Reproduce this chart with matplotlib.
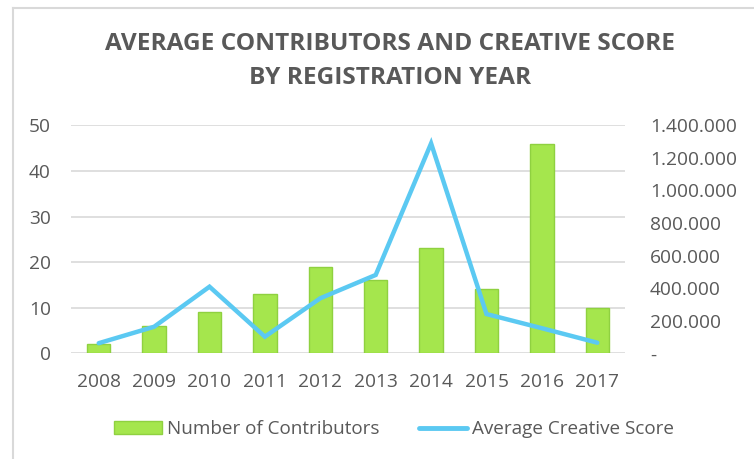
import matplotlib
matplotlib.use("Agg")
import matplotlib.pyplot as plt
from matplotlib.lines import Line2D
from matplotlib.patches import Patch
from matplotlib.ticker import FuncFormatter

plt.rcParams['font.family'] = ['Open Sans', 'DejaVu Sans']

years = ["2008", "2009", "2010", "2011", "2012", "2013", "2014", "2015", "2016", "2017"]
contributors = [2, 6, 9, 13, 19, 16, 23, 14, 46, 10]
creative_score = [62000, 163000, 409000, 102000, 338000, 481000, 1289000, 241000, 154000, 65000]

BAR_FILL = "#a5e64d"
BAR_EDGE = "#8fd140"
LINE_COLOR = "#5bc9f2"
TEXT = "#595959"
GRID = "#d9d9d9"
TICK_SIZE = 13.8

W, H = 754, 459
fig = plt.figure(figsize=(W / 100, H / 100), dpi=100)

# chart frame (top and left edges)
fig.add_artist(Line2D([13 / W, 13 / W], [0, 1 - 8 / H], color=GRID, lw=1.5, transform=fig.transFigure))
fig.add_artist(Line2D([13 / W, 1], [1 - 8 / H, 1 - 8 / H], color=GRID, lw=1.5, transform=fig.transFigure))

ax = fig.add_axes([71 / W, 1 - 353.3 / H, (625 - 71) / W, (353.3 - 125.3) / H])
x = list(range(len(years)))
ax.bar(x, contributors, width=0.42, color=BAR_FILL, edgecolor=BAR_EDGE, linewidth=1.0, zorder=2)
ax.set_xlim(-0.5, len(years) - 0.5)
ax.set_ylim(0, 50)
ax.set_yticks(range(0, 51, 10))
ax.set_xticks(x)
ax.set_xticklabels(years)
ax.grid(axis='y', color=GRID, lw=1.2, zorder=0)
ax.set_axisbelow(True)
for s in ax.spines.values():
    s.set_visible(False)
ax.tick_params(axis='both', length=0, labelsize=TICK_SIZE, colors=TEXT)
ax.tick_params(axis='y', pad=14.5)
ax.tick_params(axis='x', pad=14)

ax2 = ax.twinx()
ax2.plot(x, creative_score, color=LINE_COLOR, lw=3.2, solid_capstyle='round', solid_joinstyle='miter', zorder=3)
ax2.set_ylim(0, 1400000)
ax2.set_yticks(range(0, 1400001, 200000))


def euro_fmt(v, _pos):
    if v == 0:
        return "-"
    return f"{int(v):,}".replace(",", ".")


ax2.yaxis.set_major_formatter(FuncFormatter(euro_fmt))
for s in ax2.spines.values():
    s.set_visible(False)
ax2.tick_params(axis='y', length=0, labelsize=TICK_SIZE, colors=TEXT, pad=18)

fig.text(390 / W, 1 - 43.5 / H, "AVERAGE CONTRIBUTORS AND CREATIVE SCORE",
         ha='center', va='center', fontsize=17.6, fontweight='bold', color=TEXT)
fig.text(390 / W, 1 - 78.5 / H, "BY REGISTRATION YEAR",
         ha='center', va='center', fontsize=17.6, fontweight='bold', color=TEXT)

handles = [Patch(facecolor=BAR_FILL, edgecolor=BAR_EDGE, label="Number of Contributors"),
           Line2D([0], [0], color=LINE_COLOR, lw=3.5, solid_capstyle='round', label="Average Creative Score")]
fig.legend(handles=handles, loc='center', bbox_to_anchor=(394 / W, 1 - 429 / H), ncol=2,
           frameon=False, fontsize=13.6, labelcolor=TEXT, handlelength=2.53, handleheight=0.63,
           handletextpad=0.27, columnspacing=2.1, borderpad=0, borderaxespad=0)

fig.savefig("out.png", dpi=100, facecolor='white')
